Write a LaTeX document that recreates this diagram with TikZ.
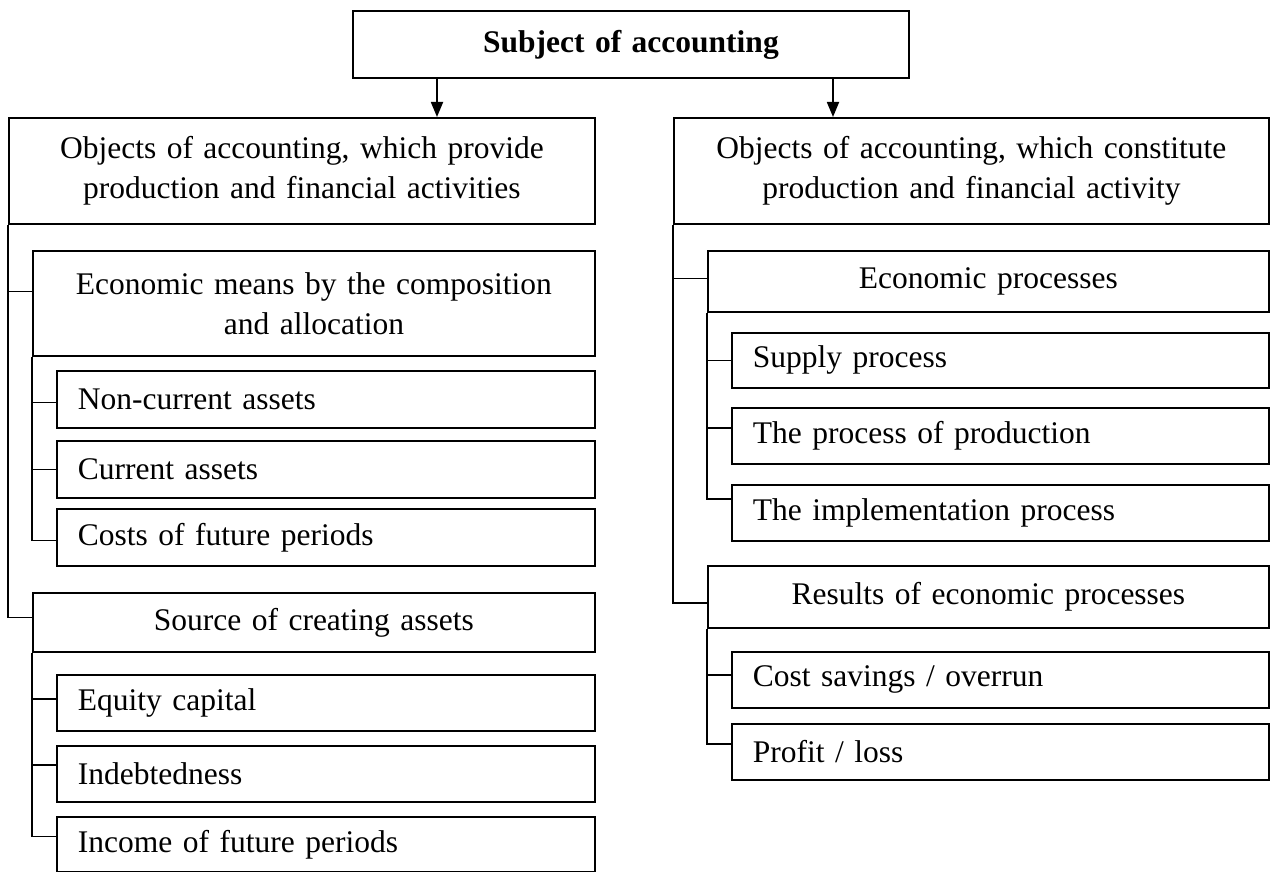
\documentclass[tikz,border=0pt]{standalone}
\usepackage{fontspec}
\setmainfont{Liberation Serif}
\usetikzlibrary{arrows.meta}
\newcommand\fs{\fontsize{31.5}{40}\selectfont}
\tikzset{
  box/.style={draw, line width=1.8pt, rectangle, anchor=north west, inner ysep=0pt, font=\fs},
  lbox/.style={box, minimum height=#1, inner xsep=21pt, text width=496pt, align=left},
  rbox/.style={box, minimum height=#1, inner xsep=21pt, text width=495pt, align=left},
  cbox/.style={box, inner xsep=10pt, align=center},
  link/.style={line width=1.8pt},
  arr/.style={line width=1.8pt, -{Triangle[width=12pt,length=15pt]}}
}
\begin{document}
\begin{tikzpicture}[x=1pt,y=-1pt]
\useasboundingbox (0,0) rectangle (1272,872);
% top
\node[cbox, minimum width=556pt, minimum height=67pt, text width=536pt] (top) at (352,10) {\textbf{Subject of accounting}};
% level 1
\node[cbox, minimum width=586pt, minimum height=106pt, text width=566pt] (L1) at (8,117) {Objects of accounting, which provide\\production and financial activities};
\node[cbox, minimum width=595pt, minimum height=106pt, text width=575pt] (R1) at (673,117) {Objects of accounting, which constitute\\production and financial activity};
% left branch
\node[cbox, minimum width=562pt, minimum height=105pt, text width=542pt] (EM) at (32,250) {Economic means by the composition\\and allocation};
\node[lbox=57pt] (NC) at (56,370) {Non-current assets};
\node[lbox=57pt] (CA) at (56,440) {Current assets};
\node[lbox=57pt] (CF) at (56,508) {Costs of future periods};
\node[cbox, minimum width=562pt, minimum height=59pt, text width=542pt] (SC) at (32,592) {Source of creating assets};
\node[lbox=56pt] (EQ) at (56,674) {Equity capital};
\node[lbox=56pt] (IN) at (56,745) {Indebtedness};
\node[lbox=55pt] (IF) at (56,816) {Income of future periods};
% right branch
\node[cbox, minimum width=561pt, minimum height=61pt, text width=541pt] (EP) at (707,250) {Economic processes};
\node[rbox=55pt] (SP) at (731,332) {Supply process};
\node[rbox=56pt] (PP) at (731,407) {The process of production};
\node[rbox=56pt] (IP) at (731,484) {The implementation process};
\node[cbox, minimum width=561pt, minimum height=62pt, text width=541pt] (RE) at (707,565) {Results of economic processes};
\node[rbox=56pt] (CS) at (731,651) {Cost savings / overrun};
\node[rbox=56pt] (PL) at (731,723) {Profit / loss};
% arrows
\path (top.south west) ++(85,0) coordinate (t1);
\path (top.south west) ++(481,0) coordinate (t2);
\draw[arr] (t1) -- (t1 |- L1.north);
\draw[arr] (t2) -- (t2 |- R1.north);
% left connectors
\draw[link] (L1.south west) |- ([yshift=12pt]EM.west);
\draw[link] (L1.south west) |- ([yshift=5pt]SC.west);
\draw[link] (EM.south west) |- ([yshift=-3pt]NC.west);
\draw[link] (EM.south west) |- (CA.west);
\draw[link] (EM.south west) |- ([yshift=-3pt]CF.west);
\draw[link] (SC.south west) |- ([yshift=4pt]EQ.west);
\draw[link] (SC.south west) |- ([yshift=9pt]IN.west);
\draw[link] (SC.south west) |- ([yshift=8pt]IF.west);
% right connectors
\draw[link] (R1.south west) |- ([yshift=3pt]EP.west);
\draw[link] (R1.south west) |- ([yshift=-6pt]RE.west);
\draw[link] (EP.south west) |- (SP.west);
\draw[link] (EP.south west) |- ([yshift=8pt]PP.west);
\draw[link] (EP.south west) |- ([yshift=14pt]IP.west);
\draw[link] (RE.south west) |- ([yshift=5pt]CS.west);
\draw[link] (RE.south west) |- ([yshift=8pt]PL.west);
\end{tikzpicture}
\end{document}
